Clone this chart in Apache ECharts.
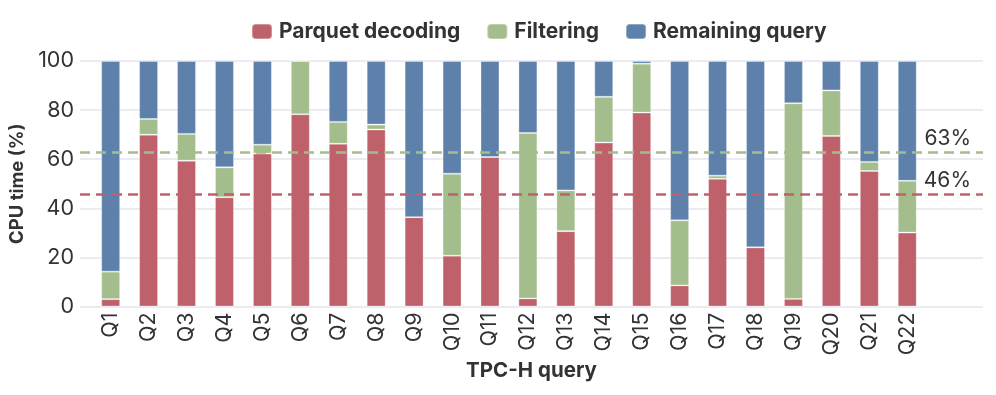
<!DOCTYPE html>
<html>
<head>
<meta charset="utf-8">
<script src="https://cdn.jsdelivr.net/npm/echarts@6/dist/echarts.min.js"></script>
<style>html,body{margin:0;padding:0;background:#fff}#c{width:996px;height:395px}</style>
</head>
<body>
<div id="c"></div>
<script>
const categories = ['Q1','Q2','Q3','Q4','Q5','Q6','Q7','Q8','Q9','Q10','Q11','Q12','Q13','Q14','Q15','Q16','Q17','Q18','Q19','Q20','Q21','Q22'];
const parquetDecoding = [3.0,70.0,59.4,44.5,62.3,78.3,66.3,72.1,36.4,20.7,60.9,3.3,30.7,66.8,79.0,8.6,52.0,24.1,3.1,69.5,55.2,30.1];
const filtering = [11.2,6.4,10.9,12.2,3.6,21.7,8.9,2.0,0,33.4,0,67.4,16.6,18.6,19.9,26.5,1.3,0,79.7,18.5,3.7,21.1];
const remainingQuery = categories.map((_, i) => Math.max(0, +(100 - parquetDecoding[i] - filtering[i]).toFixed(1)));
const seriesNames = ['Parquet decoding','Filtering','Remaining query'];
const colors = ['#BF616A','#A3BE8C','#5E81AC'];
const averageFiltering = 62.8;   // parquet + filtering average line
const averageDecoding = 45.6;    // parquet decoding average line

const chart = echarts.init(document.getElementById('c'), null, {renderer:'canvas'});
const FONT = 'Inter, "Noto Sans", sans-serif';
const TXT = '#333333';

function barSeries(name, data, color) {
  return {
    name, type:'bar', stack:'cpu', data, barWidth:'50%',
    xAxisIndex:0, yAxisIndex:0,
    itemStyle:{color, borderColor:'rgba(255,255,255,0.3)', borderWidth:1},
    emphasis:{disabled:true}
  };
}
function avgLine(value, color) {
  return {
    type:'line', xAxisIndex:1, yAxisIndex:1, data:[], silent:true,
    markLine:{
      symbol:'none', silent:true,
      lineStyle:{color, type:[10,6], width:2.5},
      label:{show:true, position:'insideEndTop', distance:[12,3], formatter: Math.round(value) + '%',
             fontFamily:FONT, fontSize:21, color:TXT},
      data:[{yAxis:value}]
    }
  };
}

chart.setOption({
  animation:false,
  color:colors,
  legend:{
    top:16, left:246, itemWidth:20, itemHeight:15, itemGap:26,
    data:seriesNames,
    textStyle:{fontFamily:FONT, fontSize:21, fontWeight:'bold', color:TXT, padding:[0,0,0,2]}
  },
  grid:[
    {left:91.7, right:69.8, top:61, bottom:88.5},
    {left:80, right:13, top:61, bottom:88.5}
  ],
  xAxis:[
    {gridIndex:0, type:'category', data:categories,
     axisLine:{show:false}, axisTick:{show:false},
     axisLabel:{rotate:90, margin:6, fontFamily:FONT, fontSize:21.5, color:TXT}},
    {gridIndex:1, type:'value', min:0, max:1, show:true,
     axisLine:{show:false}, axisTick:{show:false}, axisLabel:{show:false}, splitLine:{show:false},
     name:'TPC-H query', nameLocation:'middle', nameGap:54,
     nameTextStyle:{fontFamily:FONT, fontSize:20.5, fontWeight:'bold', color:TXT}}
  ],
  yAxis:[
    {gridIndex:0, type:'value', min:0, max:100, interval:20, show:false},
    {gridIndex:1, type:'value', min:0, max:100, interval:20,
     axisLine:{show:false}, axisTick:{show:false},
     axisLabel:{margin:6, fontFamily:FONT, fontSize:21.5, color:TXT},
     splitLine:{show:true, lineStyle:{color:'#e4e4ec', width:1.5}},
     name:'CPU time (%)', nameLocation:'middle', nameGap:48,
     nameTextStyle:{fontFamily:FONT, fontSize:18.5, fontWeight:'bold', color:TXT}}
  ],
  series:[
    barSeries(seriesNames[0], parquetDecoding, colors[0]),
    barSeries(seriesNames[1], filtering, colors[1]),
    barSeries(seriesNames[2], remainingQuery, colors[2]),
    avgLine(averageFiltering, colors[1]),
    avgLine(averageDecoding, colors[0])
  ]
});
</script>
</body>
</html>
